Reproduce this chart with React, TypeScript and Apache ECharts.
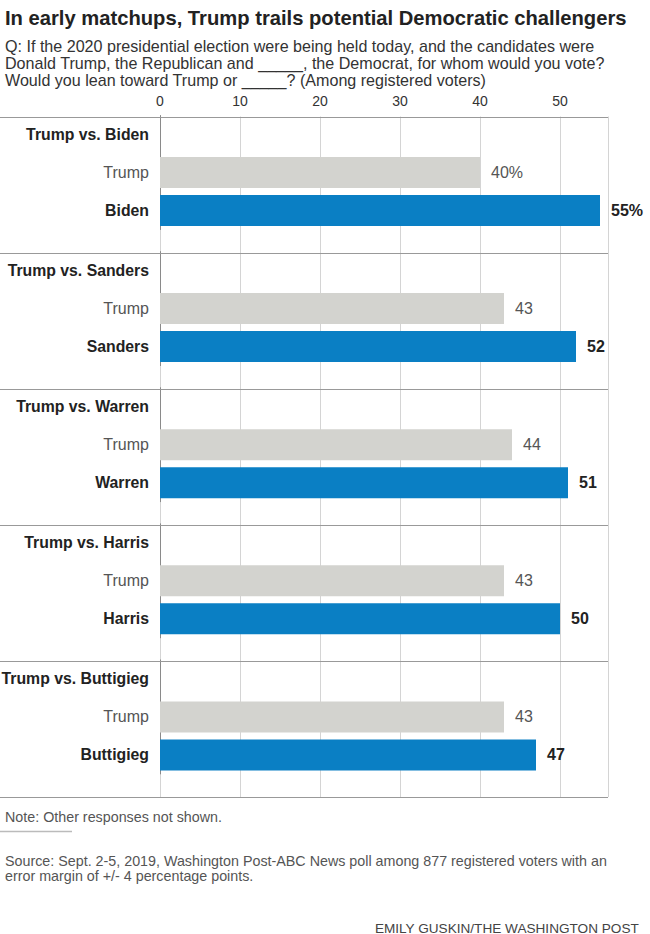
import React, { useEffect, useRef } from "react";
import * as echarts from "echarts";

const matchups = ["Trump vs. Biden", "Trump vs. Sanders", "Trump vs. Warren", "Trump vs. Harris", "Trump vs. Buttigieg"];
const democrats = ["Biden", "Sanders", "Warren", "Harris", "Buttigieg"];
const trumpValues = [40, 43, 44, 43, 43];
const democratValues = [55, 52, 51, 50, 47];
const axisMax = 56;
const axisInterval = 10;

const FONT = "'Liberation Sans', Arial, sans-serif";

export default function App() {
  const ref = useRef<HTMLDivElement>(null);
  useEffect(() => {
    if (!ref.current) return;
    const chart = echarts.init(ref.current, null, { renderer: "svg" });
    const plotLeft = 160;
    const plotRight = 608;
    const top0 = 116.5;
    const sec = 136.1;
    const grids: any[] = [
      { left: plotLeft, width: plotRight - plotLeft, top: top0, height: sec * 5, containLabel: false, outerBoundsMode: "none" },
    ];
    const xAxes: any[] = [
      {
        gridIndex: 0,
        type: "value",
        position: "top",
        min: 0,
        max: axisMax,
        interval: axisInterval,
        axisLine: { show: false },
        axisTick: { show: false },
        axisLabel: { color: "#333", fontSize: 14, fontFamily: FONT, margin: 9, showMaxLabel: false },
        splitLine: { show: true, lineStyle: { color: "#d4d4d4", width: 1 } },
      },
    ];
    const yAxes: any[] = [
      { gridIndex: 0, type: "value", min: 0, max: 5, show: false, splitLine: { show: false } },
    ];
    const series: any[] = [];
    matchups.forEach((m, i) => {
      const s = top0 + sec * i;
      grids.push({
        left: plotLeft,
        width: plotRight - plotLeft,
        top: s - 1,
        height: 114,
        containLabel: false,
        outerBoundsMode: "none",
      });
      xAxes.push({
        gridIndex: i + 1,
        type: "value",
        min: 0,
        max: axisMax,
        show: false,
      });
      yAxes.push({
        gridIndex: i + 1,
        type: "category",
        inverse: true,
        data: [m, "Trump", democrats[i]],
        axisLine: { show: true, lineStyle: { color: "#8a8a8a", width: 1 } },
        axisTick: { show: false },
        axisLabel: {
          margin: 11,
          fontFamily: FONT,
          formatter: (v: string, idx: number) => (idx === 1 ? `{t|${v}}` : `{b|${v}}`),
          rich: {
            t: { color: "#555", fontSize: 16, fontFamily: FONT },
            b: { color: "#222", fontSize: 15.8, fontWeight: "bold", fontFamily: FONT },
          },
        },
      });
      const suffix = i === 0 ? "%" : "";
      series.push({
        type: "bar",
        xAxisIndex: i + 1,
        yAxisIndex: i + 1,
        barWidth: 31,
        data: [
          "-",
          {
            value: trumpValues[i],
            itemStyle: { color: "#d3d3cf" },
            label: { color: "#555", fontWeight: "normal" },
          },
          {
            value: democratValues[i],
            itemStyle: { color: "#0a7fc4" },
            label: { color: "#222", fontWeight: "bold" },
          },
        ],
        label: {
          show: true,
          position: "right",
          distance: 11,
          fontSize: 16,
          fontFamily: FONT,
          formatter: (p: any) => `${p.value}${suffix}`,
        },
      });
    });

    const sepLines: any[] = [];
    for (let i = 0; i <= 5; i++) {
      const y = Math.round(top0 + sec * i) + 0.5;
      sepLines.push({
        type: "line",
        shape: { x1: 0, y1: y, x2: plotRight, y2: y },
        style: { stroke: "#999", lineWidth: 1 },
        z: 10,
      });
    }

    chart.setOption({
      animation: false,
      backgroundColor: "#fff",
      textStyle: { fontFamily: FONT },
      title: [
        {
          text: "In early matchups, Trump trails potential Democratic challengers",
          left: 0,
          top: 3,
          textStyle: { fontSize: 20.2, fontWeight: "bold", color: "#222", fontFamily: FONT },
        },
        {
          text:
            "Q: If the 2020 presidential election were being held today, and the candidates were\nDonald Trump, the Republican and _____, the Democrat, for whom would you vote?\nWould you lean toward Trump or _____? (Among registered voters)",
          left: 0,
          top: 33,
          textStyle: { fontSize: 16.1, fontWeight: "normal", color: "#333", lineHeight: 16.8, fontFamily: FONT },
        },
        {
          text: "Note: Other responses not shown.",
          left: 0,
          top: 805,
          textStyle: { fontSize: 14.3, fontWeight: "normal", color: "#555", fontFamily: FONT },
        },
        {
          text:
            "Source: Sept. 2-5, 2019, Washington Post-ABC News poll among 877 registered voters with an\nerror margin of +/- 4 percentage points.",
          left: 0,
          top: 848,
          textStyle: { fontSize: 14.3, fontWeight: "normal", color: "#555", lineHeight: 15.5, fontFamily: FONT },
        },
        {
          text: "EMILY GUSKIN/THE WASHINGTON POST",
          right: 6,
          top: 916,
          textStyle: { fontSize: 13.6, fontWeight: "normal", color: "#444", fontFamily: FONT },
        },
      ],
      grid: grids,
      xAxis: xAxes,
      yAxis: yAxes,
      series,
      graphic: [
        ...sepLines,
        {
          type: "line",
          shape: { x1: 0, y1: 831.5, x2: 72, y2: 831.5 },
          style: { stroke: "#bbb", lineWidth: 1.5 },
        },
      ],
    });
    return () => chart.dispose();
  }, []);
  return <div ref={ref} style={{ position: "fixed", left: 0, top: 0, width: 650, height: 934 }} />;
}
